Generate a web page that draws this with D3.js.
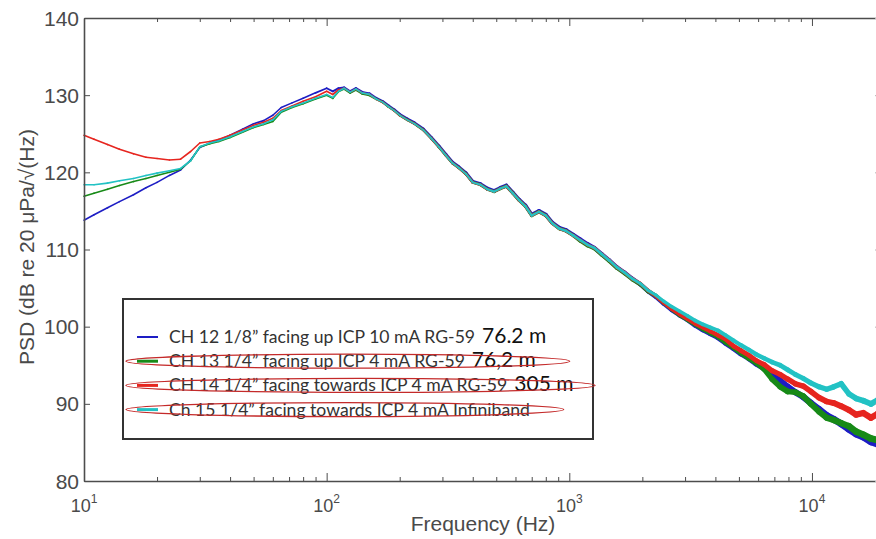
<!DOCTYPE html>
<html>
<head>
<meta charset="utf-8">
<script src="https://cdn.jsdelivr.net/npm/d3@7"></script>
<style>
  html, body { margin: 0; padding: 0; background: #fff; }
  svg { display: block; }
</style>
</head>
<body>
<div id="chart"></div>
<script>
// frequency grid (Hz)
const freq = [10, 11, 12.5, 14, 16, 18, 20, 22.5, 25, 27.5,
  30, 33, 36, 40, 45, 50, 55, 60, 65, 72,
  80, 90, 100, 106, 112, 118, 125, 132, 140, 150,
  160, 170, 180, 190, 200, 215, 230, 250, 270, 290,
  310, 330, 350, 375, 400, 430, 460, 490, 520, 550,
  585, 620, 660, 700, 750, 800, 850, 910, 970, 1040,
  1110, 1190, 1270, 1360, 1460, 1570, 1690, 1820, 1960, 2110,
  2270, 2450, 2640, 2850, 3070, 3300, 3550, 3820, 4100, 4400,
  4750, 5100, 5500, 5900, 6350, 6850, 7400, 7950, 8550, 9200,
  9900, 10700, 11500, 12300, 13200, 14200, 15200, 16300, 17500, 18700,
  20000];

// PSD, dB re 20 uPa/sqrt(Hz)
const ch12 = [113.8, 114.5, 115.4, 116.2, 117.1, 118.0, 118.7, 119.6, 120.3, 121.6,
  123.2, 123.8, 124.2, 124.8, 125.6, 126.3, 126.7, 127.4, 128.4, 129.0,
  129.6, 130.3, 130.9, 130.5, 130.9, 131.0, 130.5, 130.9, 130.4, 130.2,
  129.6, 129.2, 128.6, 128.1, 127.5, 126.9, 126.4, 125.6, 124.5, 123.4,
  122.3, 121.3, 120.7, 119.9, 118.8, 118.5, 117.9, 117.6, 118.0, 118.3,
  117.4, 116.5, 115.7, 114.5, 115.0, 114.5, 113.5, 112.8, 112.5, 111.9,
  111.3, 110.7, 110.2, 109.4, 108.6, 107.7, 107.0, 106.2, 105.5, 104.6,
  103.9, 103.0, 102.2, 101.5, 100.9, 100.2, 99.6, 99.1, 98.6, 97.9,
  97.2, 96.5, 95.9, 95.2, 94.6, 93.8, 93.0, 92.2, 91.5, 90.9,
  90.1, 89.3, 88.5, 88.0, 87.4, 86.7, 86.1, 85.7, 85.1, 84.8,
  84.4];

const ch13 = [116.9, 117.3, 117.8, 118.3, 118.8, 119.2, 119.6, 120.0, 120.4, 121.5,
  123.3, 123.7, 124.0, 124.5, 125.2, 125.8, 126.2, 126.6, 127.8, 128.4,
  128.9, 129.5, 130.0, 129.6, 130.5, 130.8, 130.3, 130.7, 130.2, 130.0,
  129.5, 129.1, 128.5, 128.0, 127.4, 126.8, 126.3, 125.5, 124.4, 123.3,
  122.2, 121.2, 120.6, 119.8, 118.7, 118.4, 117.8, 117.5, 117.9, 118.2,
  117.3, 116.4, 115.6, 114.4, 114.9, 114.4, 113.4, 112.7, 112.4, 111.8,
  111.1, 110.5, 110.1, 109.3, 108.5, 107.6, 106.9, 106.1, 105.5, 104.6,
  104.0, 103.1, 102.3, 101.5, 100.9, 100.3, 99.7, 99.2, 98.7, 98.0,
  97.3, 96.6, 95.9, 95.3, 94.5, 93.2, 92.2, 91.6, 91.5, 91.0,
  90.0, 89.0, 88.2, 87.9, 87.5, 87.1, 86.4, 86.0, 85.5, 85.3,
  84.9];

const ch14 = [124.8, 124.3, 123.6, 123.0, 122.4, 121.95, 121.8, 121.6, 121.7, 122.7,
  123.8, 124.0, 124.3, 124.8, 125.5, 126.1, 126.5, 127.0, 128.0, 128.6,
  129.2, 129.8, 130.5, 130.1, 130.7, 130.9, 130.4, 130.8, 130.3, 130.1,
  129.5, 129.1, 128.5, 128.0, 127.4, 126.8, 126.3, 125.5, 124.4, 123.3,
  122.2, 121.2, 120.6, 119.8, 118.7, 118.4, 117.8, 117.5, 117.9, 118.2,
  117.3, 116.4, 115.6, 114.4, 114.9, 114.4, 113.4, 112.7, 112.4, 111.8,
  111.2, 110.6, 110.2, 109.4, 108.6, 107.7, 107.0, 106.2, 105.6, 104.7,
  104.0, 103.1, 102.3, 101.6, 101.0, 100.4, 99.9, 99.4, 98.9, 98.4,
  97.5, 96.9, 96.3, 95.6, 95.1, 94.3, 93.8, 93.2, 92.6, 92.3,
  91.6, 90.8, 90.3, 90.1, 89.7, 89.2, 88.6, 88.8, 88.2, 88.7,
  88.5];

const ch15 = [118.4, 118.4, 118.6, 118.9, 119.2, 119.6, 119.9, 120.2, 120.5, 121.5,
  123.3, 123.8, 124.1, 124.6, 125.3, 125.9, 126.3, 126.8, 127.9, 128.5,
  129.0, 129.6, 130.1, 129.7, 130.5, 130.9, 130.4, 130.8, 130.3, 130.1,
  129.5, 129.1, 128.5, 128.0, 127.4, 126.8, 126.3, 125.5, 124.4, 123.3,
  122.2, 121.2, 120.6, 119.8, 118.7, 118.4, 117.8, 117.5, 117.9, 118.2,
  117.3, 116.4, 115.6, 114.4, 114.9, 114.4, 113.4, 112.7, 112.4, 111.8,
  111.2, 110.6, 110.2, 109.4, 108.6, 107.7, 107.0, 106.2, 105.6, 104.7,
  104.1, 103.3, 102.6, 102.0, 101.4, 100.8, 100.3, 99.9, 99.5, 98.9,
  98.2, 97.6, 97.0, 96.4, 95.9, 95.4, 95.0, 94.4, 93.8, 93.3,
  92.7, 92.2, 91.9, 92.2, 92.6, 91.3, 90.7, 90.4, 90.0, 90.5,
  90.3];

const seriesValues = [ch12, ch13, ch14, ch15];
const seriesColors = ["#1d1dc4", "#178a17", "#e6251f", "#22c2c4"];
const legendText = [
  "CH 12 1/8\u201D facing up ICP 10 mA RG-59",
  "CH 13 1/4\u201D facing up ICP 4 mA RG-59",
  "CH 14 1/4\u201D facing towards ICP 4 mA RG-59",
  "Ch 15 1/4\u201D facing towards ICP 4 mA Infiniband"
];
const legendNote = ["76.2 m", "76,2 m", "305 m", ""];
const circled = [false, true, true, true];

const yTicks = [80, 90, 100, 110, 120, 130, 140];
const decades = [10, 100, 1000, 10000];
const decadeExp = ["1", "2", "3", "4"];

const width = 876, height = 539;
const svg = d3.select("#chart").append("svg")
    .attr("width", width)
    .attr("height", height)
    .style("font-family", "'Liberation Sans', Arial, sans-serif");

const x = d3.scaleLog().domain([10, 20000]).range([84, 885]);
const y = d3.scaleLinear().domain([80, 140]).range([481, 18]);

const minorTicks = [];
decades.forEach(d => {
    for (let k = 2; k <= 9; k++) if (d * k <= 20000) minorTicks.push(d * k);
});

const axisColor = "#4d4d4d";

// curves: line width grows where the traces get noisy,
// and the traces drawn first are a bit wider so they show at the edges
const widthScale = d3.scaleLog().domain([200, 2000, 20000]).range([1.6, 3, 6]).clamp(true);
const overlapScale = d3.scaleLog().domain([90, 200]).range([0, 1]).clamp(true);
const edgeExtra = [1.4, 0.9, 0.5, 0];
const curves = svg.append("g");
seriesValues.forEach((vals, si) => {
    const pts = freq.map((f, i) => [f, vals[i]]);
    curves.append("g")
        .selectAll("line")
        .data(d3.pairs(pts))
        .join("line")
        .attr("x1", d => x(d[0][0]))
        .attr("y1", d => y(d[0][1]))
        .attr("x2", d => x(d[1][0]))
        .attr("y2", d => y(d[1][1]))
        .attr("stroke", seriesColors[si])
        .attr("stroke-width", d => {
            const fm = Math.sqrt(d[0][0] * d[1][0]);
            return widthScale(fm) + edgeExtra[si] * overlapScale(fm);
        })
        .attr("stroke-linecap", "round");
});

// bottom axis
const axBottom = svg.append("g")
    .attr("transform", `translate(0,${y(80)})`)
    .attr("color", axisColor);
axBottom.append("g").call(d3.axisBottom(x).tickValues(minorTicks).tickSize(-4).tickFormat("").tickSizeOuter(0));
axBottom.append("g").call(d3.axisBottom(x).tickValues(decades).tickSize(-8).tickFormat("").tickSizeOuter(0))
    .select(".domain").remove();
axBottom.selectAll(".domain").attr("stroke-width", 1.6);

// top axis
const axTop = svg.append("g")
    .attr("transform", `translate(0,${y(140)})`)
    .attr("color", axisColor);
axTop.append("g").call(d3.axisTop(x).tickValues(minorTicks).tickSize(-4).tickFormat("").tickSizeOuter(0));
axTop.append("g").call(d3.axisTop(x).tickValues(decades).tickSize(-8).tickFormat("").tickSizeOuter(0))
    .select(".domain").remove();
axTop.selectAll(".domain").attr("stroke-width", 1.6);

// left axis
const axLeft = svg.append("g")
    .attr("transform", `translate(${x(10)},0)`)
    .attr("color", axisColor)
    .call(d3.axisLeft(y).tickValues(yTicks).tickSize(-6).tickFormat("").tickSizeOuter(0));
axLeft.select(".domain").attr("stroke-width", 1.6);

// right axis stubs (axis line itself falls off the page)
svg.append("g")
    .attr("transform", `translate(881,0)`)
    .attr("color", "#b5b5b5")
    .call(d3.axisLeft(y).tickValues(yTicks).tickSize(6).tickFormat("").tickSizeOuter(0))
    .select(".domain").remove();

// y tick labels
svg.append("g").selectAll("text")
    .data(yTicks)
    .join("text")
    .attr("x", 79)
    .attr("y", d => y(d))
    .attr("dy", "0.36em")
    .attr("text-anchor", "end")
    .attr("fill", "#4a4a4a")
    .attr("font-size", 21)
    .text(d => d);

// x tick labels with exponents
const xl = svg.append("g").selectAll("text")
    .data(decades)
    .join("text")
    .attr("x", d => x(d))
    .attr("y", 512)
    .attr("text-anchor", "middle")
    .attr("fill", "#4a4a4a")
    .attr("font-size", 18);
xl.append("tspan").text("10");
xl.append("tspan").attr("dy", -9).attr("font-size", 12).text((d, i) => decadeExp[i]);

// axis titles
svg.append("text")
    .attr("x", 483)
    .attr("y", 531)
    .attr("text-anchor", "middle")
    .attr("fill", "#4a4a4a")
    .attr("font-size", 21)
    .text("Frequency (Hz)");

svg.append("text")
    .attr("transform", "translate(34,247) rotate(-90)")
    .attr("text-anchor", "middle")
    .attr("fill", "#4a4a4a")
    .attr("font-size", 21)
    .text("PSD (dB re 20 \u03BCPa/\u221A(Hz)");

// legend
const lg = { x: 123, y: 299, w: 470, h: 140 };
const legend = svg.append("g");
legend.append("rect")
    .attr("x", lg.x).attr("y", lg.y)
    .attr("width", lg.w).attr("height", lg.h)
    .attr("fill", "#fff")
    .attr("stroke", "#333")
    .attr("stroke-width", 2);

const rowY = i => 337 + i * 24.2;
legendText.forEach((label, i) => {
    const cy = rowY(i);
    legend.append("line")
        .attr("x1", 137).attr("x2", 158)
        .attr("y1", cy).attr("y2", cy)
        .attr("stroke", seriesColors[i])
        .attr("stroke-width", i === 0 ? 2 : 3);
    const t = legend.append("text")
        .attr("x", 169)
        .attr("y", cy + 6)
        .attr("fill", "#333")
        .style("font-family", "Lato, 'Open Sans', sans-serif")
        .attr("font-size", 17.6)
        .text(label);
    let end = 169 + t.node().getComputedTextLength();
    if (legendNote[i]) {
        const n = legend.append("text")
            .attr("x", end + 7)
            .attr("y", cy + 6)
            .attr("fill", "#111")
            .style("font-family", "Lato, 'Open Sans', sans-serif")
            .attr("font-size", 21)
            .text(legendNote[i]);
        end = end + 7 + n.node().getComputedTextLength();
    }
    if (circled[i]) {
        const x0 = lg.x + 3;
        const x1 = Math.min(end + 34, lg.x + lg.w + 2);
        legend.append("ellipse")
            .attr("cx", (x0 + x1) / 2)
            .attr("cy", cy)
            .attr("rx", (x1 - x0) / 2)
            .attr("ry", 7)
            .attr("fill", "none")
            .attr("stroke", "#c42a2a")
            .attr("stroke-width", 1.3);
    }
});
</script>
</body>
</html>
